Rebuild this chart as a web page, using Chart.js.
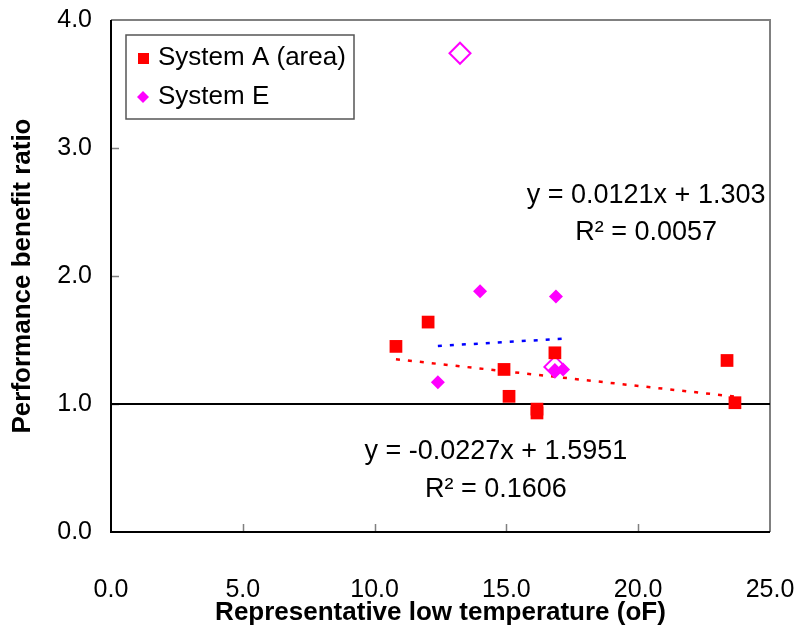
<!DOCTYPE html>
<html>
<head>
<meta charset="utf-8">
<script src="https://cdn.jsdelivr.net/npm/chart.js@4.4.1/dist/chart.umd.min.js"></script>
<style>
  body { margin: 0; background: #fff; }
  canvas { display: block; }
</style>
</head>
<body>
<canvas id="chart" width="798" height="628"></canvas>
<script>
// --- data ---
const systemAX = [10.81, 12.03, 14.91, 15.10, 16.16, 16.16, 16.84, 23.37, 23.67];
const systemAY = [1.45, 1.64, 1.27, 1.06, 0.96, 0.93, 1.40, 1.34, 1.01];

const systemEX = [12.40, 14.00, 16.84, 16.88, 17.15];
const systemEY = [1.17, 1.88, 1.265, 1.84, 1.27];

// open diamonds (not in legend)
const openEX = [13.24, 16.84];
const openEY = [3.74, 1.29];

// linear fits shown on the chart
const fitA = [-0.0227, 1.5951];   // slope, intercept
const fitE = [0.0121, 1.303];
const fitALabels = ['y = -0.0227x + 1.5951', 'R² = 0.1606'];
const fitELabels = ['y = 0.0121x + 1.303', 'R² = 0.0057'];

const baseline = 1.0;
const xTicks = [0, 5, 10, 15, 20, 25];
const yTicks = [0, 1, 2, 3, 4];
const legendLabels = ['System A (area)', 'System E'];

const FONT = "'Liberation Sans', Arial, sans-serif";

function pts(xs, ys) {
  return xs.map((x, i) => ({ x: x, y: ys[i] }));
}
function fitLine(xs, fit) {
  const lo = Math.min(...xs), hi = Math.max(...xs);
  return [lo, hi].map(x => ({ x: x, y: fit[0] * x + fit[1] }));
}

// frame, inward tick marks
const framePlugin = {
  id: 'frame',
  beforeDatasetsDraw(chart) {
    const { ctx, chartArea: a, scales } = chart;
    ctx.save();
    ctx.lineWidth = 2;
    ctx.strokeStyle = '#808080';
    ctx.beginPath();
    ctx.moveTo(a.left, a.top); ctx.lineTo(a.right, a.top); ctx.lineTo(a.right, a.bottom);
    ctx.stroke();
    ctx.lineWidth = 1.5;
    ctx.beginPath();
    xTicks.slice(1, -1).forEach(v => {
      const px = Math.round(scales.x.getPixelForValue(v)) + 0.5;
      ctx.moveTo(px, a.bottom); ctx.lineTo(px, a.bottom - 8);
    });
    yTicks.slice(1, -1).forEach(v => {
      const py = Math.round(scales.y.getPixelForValue(v)) + 0.5;
      ctx.moveTo(a.left, py); ctx.lineTo(a.left + 8, py);
    });
    ctx.stroke();
    ctx.strokeStyle = '#000';
    ctx.lineWidth = 2;
    ctx.beginPath();
    ctx.moveTo(a.left, a.top); ctx.lineTo(a.left, a.bottom); ctx.lineTo(a.right, a.bottom);
    ctx.stroke();
    ctx.restore();
  }
};

// equation text and legend box
const notesPlugin = {
  id: 'notes',
  afterDraw(chart) {
    const { ctx, scales } = chart;
    ctx.save();
    ctx.fillStyle = '#000';
    ctx.font = '27px ' + FONT;
    ctx.textAlign = 'center';
    ctx.textBaseline = 'middle';
    const xs = scales.x, ys = scales.y;
    ctx.fillText(fitELabels[0], xs.getPixelForValue(20.3), ys.getPixelForValue(2.63));
    ctx.fillText(fitELabels[1], xs.getPixelForValue(20.3), ys.getPixelForValue(2.34));
    ctx.fillText(fitALabels[0], xs.getPixelForValue(14.6), ys.getPixelForValue(0.625));
    ctx.fillText(fitALabels[1], xs.getPixelForValue(14.6), ys.getPixelForValue(0.33));

    // legend
    ctx.strokeStyle = '#555';
    ctx.lineWidth = 1.5;
    ctx.fillStyle = '#fff';
    ctx.fillRect(126, 35, 228, 84);
    ctx.strokeRect(126, 35, 228, 84);
    ctx.textAlign = 'left';
    ctx.font = '26px ' + FONT;
    const items = chart.data.datasets.filter(ds => legendLabels.includes(ds.label));
    items.forEach((ds, i) => {
      const cy = 58 + i * 39;
      ctx.fillStyle = ds.backgroundColor;
      if (ds.pointStyle === 'rect') {
        ctx.fillRect(138, cy - 5, 11, 11);
      } else {
        ctx.beginPath();
        ctx.moveTo(143, cy - 6); ctx.lineTo(149, cy); ctx.lineTo(143, cy + 6); ctx.lineTo(137, cy);
        ctx.closePath(); ctx.fill();
      }
      ctx.fillStyle = '#000';
      ctx.fillText(ds.label, 158, cy);
    });
    ctx.restore();
  }
};

new Chart(document.getElementById('chart'), {
  type: 'scatter',
  data: {
    datasets: [
      {
        label: 'System A (area)',
        data: pts(systemAX, systemAY),
        pointStyle: 'rect',
        pointRadius: 9,
        backgroundColor: '#ff0000',
        borderWidth: 0
      },
      {
        label: 'System E (open)',
        data: pts(openEX, openEY),
        pointStyle: 'rectRot',
        pointRadius: 10.5,
        backgroundColor: 'rgba(255,255,255,0)',
        borderColor: '#ff00ff',
        borderWidth: 2
      },
      {
        label: 'System E',
        data: pts(systemEX, systemEY),
        pointStyle: 'rectRot',
        pointRadius: 7,
        backgroundColor: '#ff00ff',
        borderWidth: 0
      },
      {
        label: 'Fit A',
        data: fitLine(systemAX, fitA),
        showLine: true,
        pointRadius: 0,
        borderColor: '#ff0000',
        borderWidth: 2.5,
        borderDash: [4, 8]
      },
      {
        label: 'Fit E',
        data: fitLine(systemEX, fitE),
        showLine: true,
        pointRadius: 0,
        borderColor: '#0000ff',
        borderWidth: 2.5,
        borderDash: [4, 8]
      },
      {
        label: 'Baseline',
        data: [{ x: xTicks[0], y: baseline }, { x: xTicks[xTicks.length - 1], y: baseline }],
        showLine: true,
        pointRadius: 0,
        borderColor: '#000',
        borderWidth: 2
      }
    ]
  },
  options: {
    responsive: false,
    animation: false,
    layout: { padding: { top: 20, right: 28, left: 0, bottom: 0 } },
    plugins: {
      legend: { display: false },
      tooltip: { enabled: false }
    },
    scales: {
      x: {
        type: 'linear',
        min: 0, max: 25,
        afterBuildTicks: s => { s.ticks = xTicks.map(v => ({ value: v })); },
        afterFit: s => { s.height = 96; s.paddingLeft = 0; s.paddingRight = 0; },
        grid: { display: false, drawTicks: false },
        border: { display: false },
        ticks: {
          padding: 43,
          color: '#000',
          font: { family: FONT, size: 25 },
          callback: v => v.toFixed(1)
        },
        title: {
          display: true,
          text: 'Representative low temperature (oF)',
          color: '#000',
          font: { family: FONT, size: 26, weight: 'bold' },
          padding: { top: 0, bottom: 0 }
        }
      },
      y: {
        type: 'linear',
        min: 0, max: 4,
        afterBuildTicks: s => { s.ticks = yTicks.map(v => ({ value: v })); },
        afterFit: s => { s.width = 111; s.paddingTop = 0; s.paddingBottom = 0; },
        grid: { display: false, drawTicks: false },
        border: { display: false },
        ticks: {
          padding: 19,
          color: '#000',
          font: { family: FONT, size: 25 },
          callback: v => v.toFixed(1)
        },
        title: {
          display: true,
          text: 'Performance benefit ratio',
          color: '#000',
          font: { family: FONT, size: 26, weight: 'bold' },
          padding: { top: 7, bottom: 0 }
        }
      }
    }
  },
  plugins: [framePlugin, notesPlugin]
});
</script>
</body>
</html>
